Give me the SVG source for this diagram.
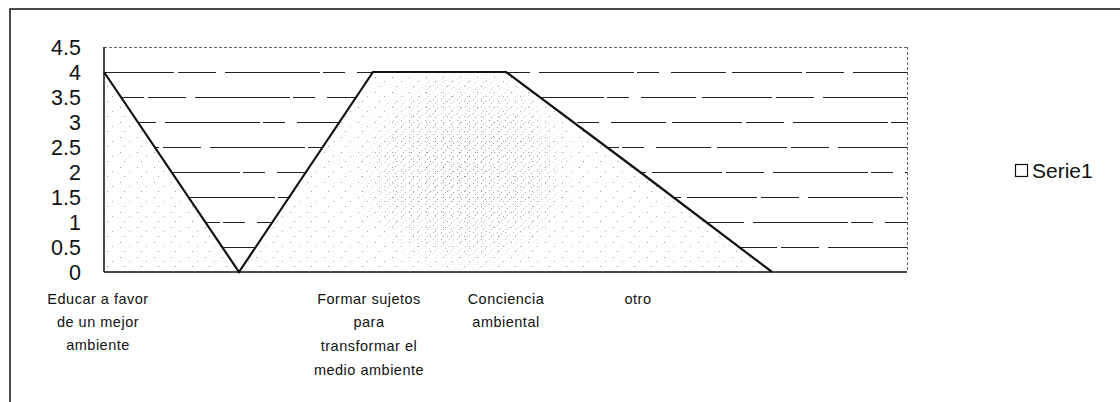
<svg xmlns="http://www.w3.org/2000/svg" width="1120" height="402" viewBox="0 0 1120 402">
<style>
.frame{fill:none;stroke:#111;stroke-width:1.5}
.grid{stroke:#222;stroke-width:1;stroke-dasharray:70 4 38 9 95 3 22 12 55 6}
.gtop{stroke:#666;stroke-width:1;stroke-dasharray:3 2}
.axis{stroke:#111;stroke-width:1.5;fill:none}
.ylab{font-family:"Liberation Sans",Arial,sans-serif;font-size:21.5px;fill:#111;text-anchor:end}
.xlab{font-family:"Liberation Sans",Arial,sans-serif;font-size:14.5px;fill:#111;text-anchor:middle;letter-spacing:0.5px}
.leg{font-family:"Liberation Sans",Arial,sans-serif;font-size:21px;fill:#111}
.series{fill:none;stroke:#111;stroke-width:2.2;stroke-linejoin:miter}
</style>
<defs>
<pattern id="dots" width="17" height="15" patternUnits="userSpaceOnUse">
<rect x="1" y="2" width="1" height="1" fill="#999"/>
<rect x="10" y="6" width="1" height="1" fill="#aaa"/>
<rect x="5" y="11" width="1" height="1" fill="#999"/>
</pattern>
<pattern id="dots2" width="8" height="7" patternUnits="userSpaceOnUse">
<rect x="1" y="1" width="1" height="1" fill="#888"/>
<rect x="5" y="3" width="1" height="1" fill="#999"/>
<rect x="3" y="5" width="1" height="1" fill="#888"/>
</pattern>
<radialGradient id="fade" cx="0.5" cy="0.5" r="0.5">
<stop offset="0" stop-color="#fff" stop-opacity="1"/>
<stop offset="0.6" stop-color="#fff" stop-opacity="0.7"/>
<stop offset="1" stop-color="#fff" stop-opacity="0"/>
</radialGradient>
<mask id="mid">
<rect x="340" y="55" width="250" height="230" fill="url(#fade)"/>
</mask>
<clipPath id="areaClip">
<polygon points="104,72 239,272 373,72 506,72 640,172 772,272 104,272"/>
</clipPath>
</defs>
<rect width="1120" height="402" fill="#fff"/>
<g id="frame">
<path class="frame" d="M10,402 V9 H1120"/>
</g>
<g id="gridlines">
<line class="gtop" x1="104" y1="47.5" x2="907" y2="47.5"/>
<line class="grid" x1="104" y1="72.5" x2="907" y2="72.5"/>
<line class="grid" x1="104" y1="97.5" x2="907" y2="97.5" stroke-dashoffset="30"/>
<line class="grid" x1="104" y1="122.5" x2="907" y2="122.5" stroke-dashoffset="60"/>
<line class="grid" x1="104" y1="147.5" x2="907" y2="147.5" stroke-dashoffset="15"/>
<line class="grid" x1="104" y1="172.5" x2="907" y2="172.5" stroke-dashoffset="80"/>
<line class="grid" x1="104" y1="197.5" x2="907" y2="197.5" stroke-dashoffset="45"/>
<line class="grid" x1="104" y1="222.5" x2="907" y2="222.5" stroke-dashoffset="100"/>
<line class="grid" x1="104" y1="247.5" x2="907" y2="247.5" stroke-dashoffset="25"/>
<line class="gtop" x1="907.5" y1="47" x2="907.5" y2="272"/>
</g>
<g id="area">
<polygon points="104,72 239,272 373,72 506,72 640,172 772,272 104,272" fill="#fff"/>
<g clip-path="url(#areaClip)">
<rect x="104" y="47" width="700" height="226" fill="url(#dots)"/>
<rect x="340" y="55" width="250" height="230" fill="url(#dots2)" mask="url(#mid)"/>
</g>
<polyline class="series" points="104,72 239,272 373,72 506,72 640,172 772,272"/>
</g>
<g id="axes">
<line class="axis" x1="104" y1="47" x2="104" y2="272"/>
<line class="axis" x1="104" y1="272" x2="907" y2="272" stroke-width="2"/>
</g>
<g id="y-labels">
<text class="ylab" x="81" y="55">4.5</text>
<text class="ylab" x="81" y="80">4</text>
<text class="ylab" x="81" y="105">3.5</text>
<text class="ylab" x="81" y="130">3</text>
<text class="ylab" x="81" y="155">2.5</text>
<text class="ylab" x="81" y="180">2</text>
<text class="ylab" x="81" y="205">1.5</text>
<text class="ylab" x="81" y="230">1</text>
<text class="ylab" x="81" y="255">0.5</text>
<text class="ylab" x="81" y="280">0</text>
</g>
<g id="x-labels">
<text class="xlab" x="98" y="304">Educar a favor</text>
<text class="xlab" x="98" y="327">de un mejor</text>
<text class="xlab" x="98" y="350">ambiente</text>
<text class="xlab" x="369" y="304">Formar sujetos</text>
<text class="xlab" x="369" y="327">para</text>
<text class="xlab" x="369" y="351">transformar el</text>
<text class="xlab" x="369" y="375">medio ambiente</text>
<text class="xlab" x="506" y="304">Conciencia</text>
<text class="xlab" x="506" y="327">ambiental</text>
<text class="xlab" x="638" y="304">otro</text>
</g>
<g id="legend">
<rect x="1015.5" y="164.5" width="12" height="12" fill="#fff" stroke="#111" stroke-width="1.2"/>
<text class="leg" x="1032" y="178">Serie1</text>
</g>
</svg>
